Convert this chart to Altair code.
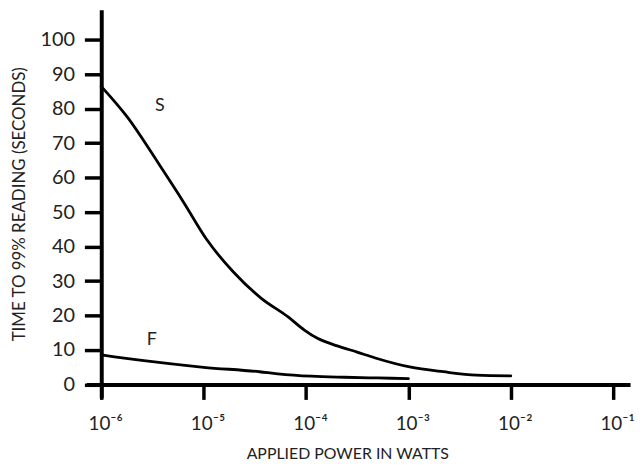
import altair as alt
import pandas as pd

# S curve (slow)
s_power = [1e-6, 1.786e-6, 3.78e-6, 6.37e-6, 1.064e-5, 1.945e-5, 3.66e-5, 6.64e-5,
           9.64e-5, 1.294e-4, 2.02e-4, 3.16e-4, 4.75e-4, 1.03e-3, 2.19e-3, 4.60e-3, 1e-2]
s_time = [86.5, 77.7, 63.3, 52.9, 42.2, 32.7, 25.0, 19.7,
          15.8, 13.4, 11.2, 9.4, 7.7, 5.1, 3.7, 2.7, 2.5]

# F curve (fast)
f_power = [1e-6, 2.61e-6, 1e-5, 3.52e-5, 5.31e-5, 1.13e-4, 2.37e-4, 4.99e-4, 1e-3]
f_time = [8.6, 6.9, 5.0, 3.7, 3.1, 2.4, 2.1, 1.9, 1.7]

# curve name labels
label_text = ["S", "F"]
label_power = [3.73e-6, 3.12e-6]
label_time = [80.8, 12.9]

x_ticks = [1e-6, 1e-5, 1e-4, 1e-3, 1e-2, 1e-1]
x_tick_labels = ["10⁻⁶", "10⁻⁵", "10⁻⁴", "10⁻³", "10⁻²", "10⁻¹"]
y_ticks = [0, 10, 20, 30, 40, 50, 60, 70, 80, 90, 100]

FONT = "Lato"

df = pd.concat([
    pd.DataFrame({"power": s_power, "time": s_time, "series": "S"}),
    pd.DataFrame({"power": f_power, "time": f_time, "series": "F"}),
])
lab = pd.DataFrame({"power": label_power, "time": label_time, "text": label_text})

# label expression from the tick lists
expr = "''"
for v, t in reversed(list(zip(x_ticks, x_tick_labels))):
    expr = f"datum.value < {v * 3} ? '{t}' : ({expr})"

xscale = alt.Scale(type="log", domain=[10 ** -6.145, 10 ** -0.835], nice=False)
yscale = alt.Scale(domain=[-3.83, 108.7], nice=False, zero=False)

xaxis = alt.Axis(values=x_ticks, labelExpr=expr, title="APPLIED POWER IN WATTS",
                 offset=-13.3, tickSize=15, tickWidth=3.5, domainWidth=4,
                 labelPadding=15, labelFontSize=19, labelOffset=4, titleFontSize=16,
                 titlePadding=13, titleX=263, grid=False, labelFlush=False,
                 labelOverlap=False)
yaxis = alt.Axis(values=y_ticks, title="TIME TO 99% READING (SECONDS)",
                 offset=-15, tickSize=17, tickWidth=3.5, domainWidth=4,
                 labelPadding=10, labelFontSize=20, titleFontSize=17,
                 titlePadding=12, grid=False, labelFlush=False, labelOverlap=False)

X = alt.X("power:Q", scale=xscale, axis=xaxis)
Y = alt.Y("time:Q", scale=yscale, axis=yaxis)

lines = alt.Chart(df).mark_line(color="black", strokeWidth=2.8, interpolate="monotone",
                                strokeCap="round").encode(
    x=X, y=Y, detail="series:N",
)

texts = alt.Chart(lab).mark_text(fontSize=18, font=FONT, color="#222").encode(
    x=X, y=Y, text="text:N",
)

chart = alt.layer(lines, texts).properties(
    width=548, height=391,
    autosize=alt.AutoSizeParams(type="none"),
    padding={"left": 79, "top": 0, "right": 5, "bottom": 63},
).configure_view(stroke=None).configure_axis(
    labelFont=FONT, titleFont=FONT, labelColor="#222", titleColor="#222",
    titleFontWeight="normal", domainColor="black", tickColor="black",
)

chart.save("out.html", embed_options={"renderer": "svg", "actions": False})
